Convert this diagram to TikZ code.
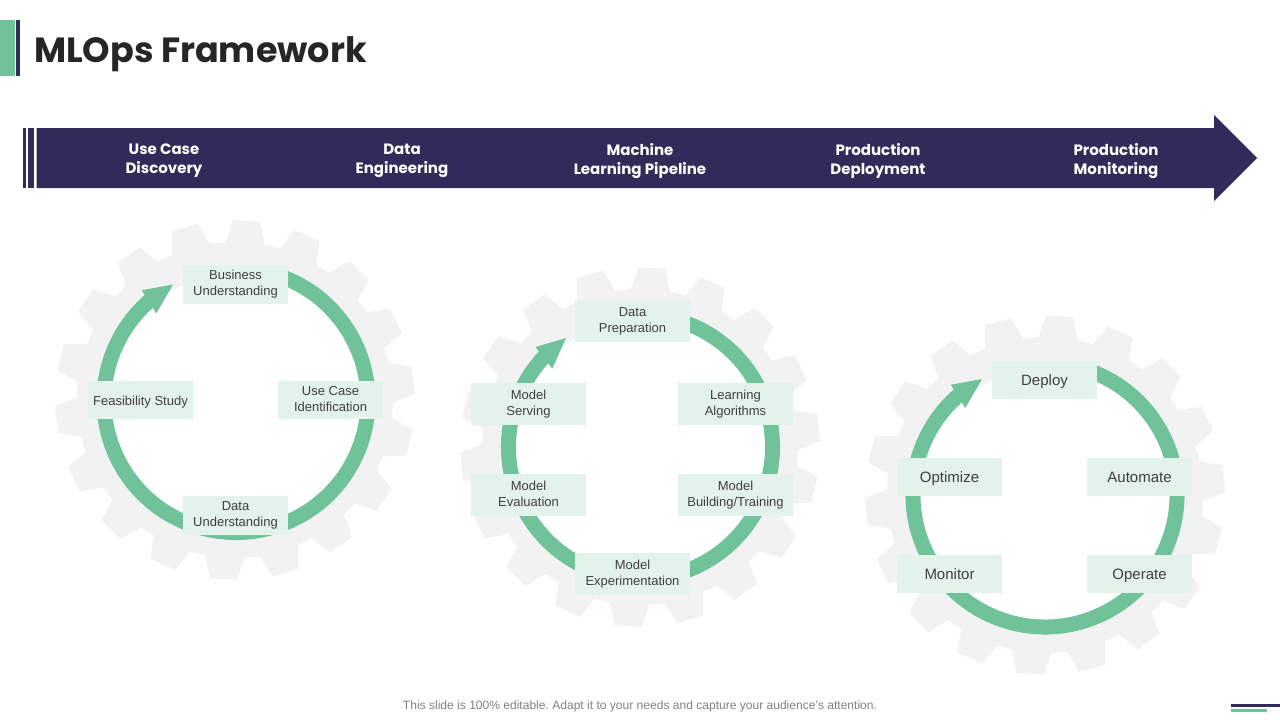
\documentclass[tikz,border=0pt]{standalone}
\usepackage{fontspec}
\setmainfont{Liberation Sans}
\newfontfamily\headfont{Poppins}
\definecolor{navy}{HTML}{322B59}
\definecolor{leaf}{HTML}{70C29A}
\definecolor{paleleaf}{HTML}{E3F2EA}
\definecolor{cog}{HTML}{F2F2F2}
\definecolor{ink}{HTML}{404040}
\tikzset{
  phase/.style={text=white,align=center,font=\headfont\bfseries\fontsize{15}{19}\selectfont,
    execute at begin node=\strut,execute at end node=\strut},
  smallbox/.style={fill=paleleaf,text=ink,align=center,minimum width=105pt,minimum height=38.5pt,inner sep=0pt,
    font=\fontsize{13}{16}\selectfont,
    execute at begin node={\rule{0pt}{13.2pt}},execute at end node={\rule[-2.8pt]{0pt}{2.8pt}}},
  widebox/.style={smallbox,minimum width=115pt,minimum height=42pt},
  bigbox/.style={smallbox,font=\fontsize{15}{18}\selectfont,
    execute at begin node={\rule{0pt}{14.6pt}},execute at end node={\rule[-3.4pt]{0pt}{3.4pt}}},
}
% cog with 18 teeth: centre x, centre y, angle of first tooth
\newcommand{\cogwheel}[3]{
\fill[cog,shift={(#1,#2)}] (#3-7.2:158)
  \foreach \k [evaluate=\k as \a using #3+20*\k] in {0,...,17} {
    -- (\a-4.3:180) -- (\a+4.3:180) -- (\a+7.2:158)
    arc[start angle=\a+7.2,end angle=\a+12.8,radius=158]
  } -- cycle;
\fill[white] (#1,#2) circle (126);
}
% ring with head: centre x, centre y, angle of the tip
\newcommand{\ringarrow}[3]{
\draw[leaf,line width=15pt,shift={(#1,#2)}] (72:132) arc[start angle=72,end angle=#3+8-360,radius=132];
\fill[leaf,shift={(#1,#2)}] (#3:132) -- (#3+12:145) -- (#3+14:118) -- cycle;
}
\begin{document}
\begin{tikzpicture}[x=1pt,y=1pt]
\useasboundingbox (0,0) rectangle (1280,-720);
% title
\fill[leaf] (0,-20) rectangle (14.5,-76);
\fill[navy] (16,-20) rectangle (20,-76);
\node[anchor=west,text=black!85,font=\headfont\bfseries\fontsize{35}{40}\selectfont] (title) at (30.5,-54) {MLOps Framework};
% banner
\fill[navy] (23.3,-128) rectangle (26,-188);
\fill[navy] (28.3,-128) rectangle (33.7,-188);
\fill[navy] (36.7,-128) -- (1214,-128) -- (1214,-115) -- (1257,-158) -- (1214,-201) -- (1214,-188) -- (36.7,-188) -- cycle;
\node[phase] (usecase) at (164,-161.5) {Use Case\\Discovery};
\node[phase] (dataeng) at (402,-161.5) {Data\\Engineering};
\node[phase] (mlpipe) at (640,-161.5) {Machine\\Learning Pipeline};
\node[phase] (proddep) at (878,-161.5) {Production\\Deployment};
\node[phase] (prodmon) at (1116,-161.5) {Production\\Monitoring};
% left wheel
\cogwheel{235}{-400}{86.3}
\ringarrow{236}{-400.5}{118.5}
\node[smallbox] (business) at (235.5,-284.5) {Business\\Understanding};
\node[smallbox] (feasible) at (140.5,-400) {Feasibility Study};
\node[smallbox] (identify) at (330.5,-400) {Use Case\\Identification};
\node[smallbox] (dataund) at (235.5,-515.5) {Data\\Understanding};
% middle wheel
\cogwheel{640}{-447}{86.2}
\ringarrow{640.5}{-447}{124.4}
\node[widebox] (dataprep) at (632.5,-321) {Data\\Preparation};
\node[widebox] (serving) at (528.5,-404) {Model\\Serving};
\node[widebox] (learning) at (735.5,-404) {Learning\\Algorithms};
\node[widebox] (evaluate) at (528.5,-495) {Model\\Evaluation};
\node[widebox] (building) at (735.5,-495) {Model\\Building/Training};
\node[widebox] (experiment) at (632.5,-574) {Model\\Experimentation};
% right wheel
\cogwheel{1045}{-495}{85.2}
\ringarrow{1045}{-495}{118.5}
\node[bigbox] (deploy) at (1044.5,-380) {Deploy};
\node[bigbox] (optimize) at (949.5,-477) {Optimize};
\node[bigbox] (automate) at (1139.5,-477) {Automate};
\node[bigbox] (monitor) at (949.5,-574) {Monitor};
\node[bigbox] (operate) at (1139.5,-574) {Operate};
% footer
\node[text=black!50,font=\fontsize{12.05}{14}\selectfont\frenchspacing] (footer) at (640,-706) {This slide is 100\% editable. Adapt it to your needs and capture your audience's attention.};
\fill[navy] (1231,-704) rectangle (1280,-707);
\fill[leaf] (1231,-708.5) rectangle (1267,-711.5);
\end{tikzpicture}
\end{document}
